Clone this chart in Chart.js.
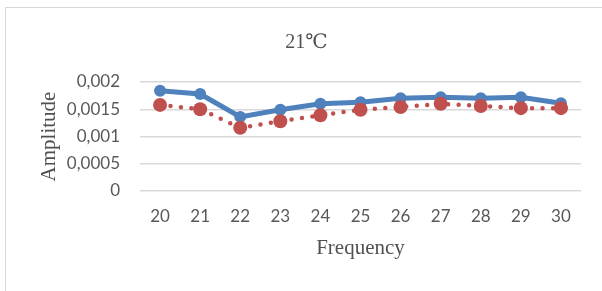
<!DOCTYPE html>
<html>
<head>
<meta charset="utf-8">
<script src="https://cdn.jsdelivr.net/npm/chart.js@4"></script>
<style>
    html, body { margin: 0; padding: 0; background: #fff; }
    #wrap { position: relative; width: 602px; height: 291px; overflow: hidden; }
    #frame {
        position: absolute; left: 5px; top: 7px; width: 620px; height: 300px;
        border: 1.5px solid #d9d9d9; box-sizing: border-box;
    }
    canvas { position: absolute; left: 0; top: 0; }
</style>
</head>
<body>
<div id="wrap">
    <div id="frame"></div>
    <canvas id="chart" width="602" height="291"></canvas>
</div>
<script>
// Data
const frequencies = ['20', '21', '22', '23', '24', '25', '26', '27', '28', '29', '30'];
const seriesBlue = [0.00184, 0.00178, 0.00136, 0.00149, 0.00160, 0.00163, 0.00170, 0.00172, 0.00170, 0.00172, 0.00161];
const seriesRed = [0.00158, 0.00150, 0.00116, 0.00128, 0.00139, 0.00149, 0.00154, 0.00160, 0.00156, 0.00152, 0.00152];
const yTickLabels = ['0', '0,0005', '0,001', '0,0015', '0,002'];

const serif = "'Liberation Serif', 'DejaVu Serif', serif";
const sans = "Lato, 'Liberation Sans', sans-serif";

const ctx = document.getElementById('chart').getContext('2d');
new Chart(ctx, {
    type: 'line',
    data: {
        labels: frequencies,
        datasets: [{
            data: seriesBlue,
            borderColor: '#4f81bd',
            backgroundColor: '#4f81bd',
            borderWidth: 5,
            pointRadius: 6,
            pointBorderWidth: 0,
            tension: 0,
            order: 2
        }, {
            data: seriesRed,
            borderColor: '#c0504d',
            backgroundColor: '#c0504d',
            borderWidth: 4.5,
            borderDash: [0, 10.5],
            borderCapStyle: 'round',
            pointRadius: 7,
            pointBorderWidth: 0,
            tension: 0,
            order: 1
        }]
    },
    options: {
        responsive: false,
        animation: false,
        layout: { padding: { left: 32, right: 21, top: 0, bottom: 0 } },
        plugins: {
            legend: { display: false },
            tooltip: { enabled: false },
            title: {
                display: true,
                text: '21℃',
                color: '#505050',
                font: { family: serif, size: 20, weight: 'normal' },
                padding: { top: 31, bottom: 27 }
            }
        },
        scales: {
            x: {
                offset: true,
                grid: { display: false, drawTicks: false },
                border: { display: false },
                ticks: { color: '#595959', font: { family: sans, size: 17 }, padding: 15, maxRotation: 0 },
                title: {
                    display: true,
                    text: 'Frequency',
                    color: '#505050',
                    font: { family: serif, size: 21 },
                    padding: { top: 0, bottom: 30 }
                },
                afterFit: scale => { scale.height = 100; }
            },
            y: {
                min: 0,
                max: 0.002,
                ticks: {
                    stepSize: 0.0005,
                    color: '#595959',
                    font: { family: sans, size: 17 },
                    padding: 20,
                    callback: (v, i) => yTickLabels[i]
                },
                grid: { color: '#d9d9d9', lineWidth: 1.5, drawTicks: false },
                border: { display: false },
                title: {
                    display: true,
                    text: 'Amplitude',
                    color: '#505050',
                    font: { family: serif, size: 21 },
                    padding: { top: 5, bottom: 0 }
                },
                afterFit: scale => { scale.width = 108; }
            }
        }
    }
});
</script>
</body>
</html>
